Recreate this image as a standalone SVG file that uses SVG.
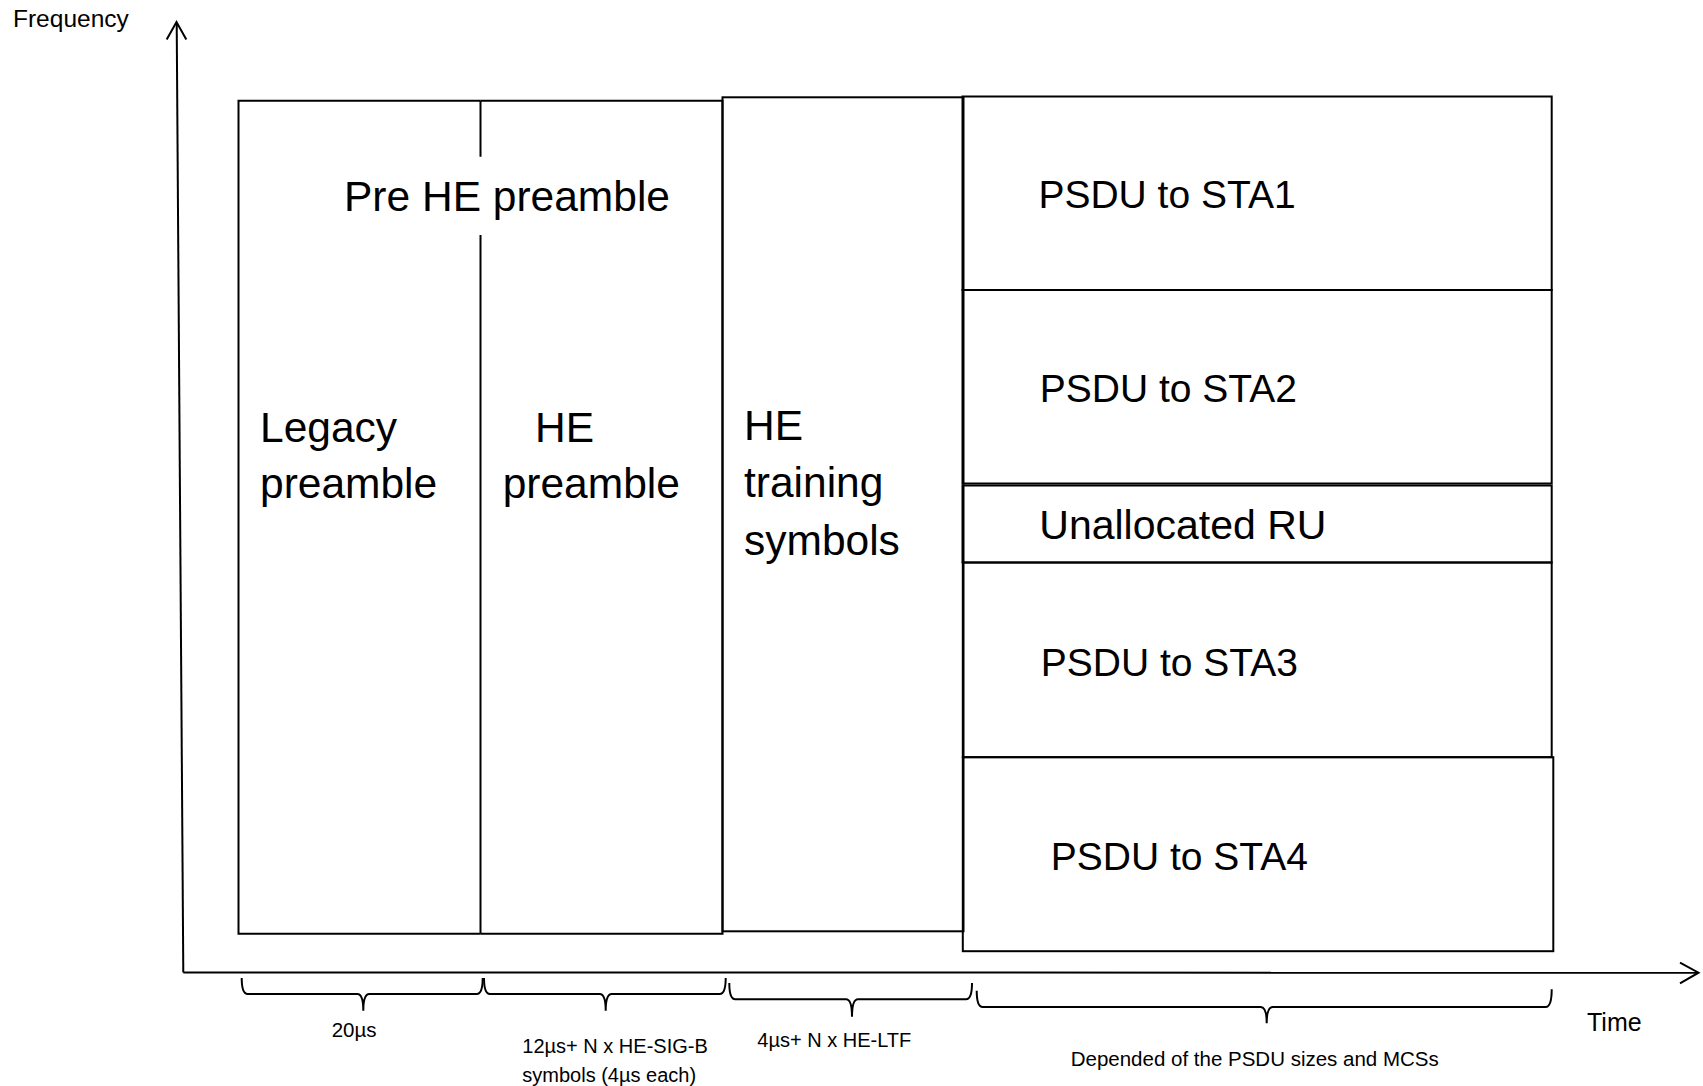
<svg xmlns="http://www.w3.org/2000/svg" width="1703" height="1086" viewBox="0 0 1703 1086">
<style>
.ln{fill:none;stroke:#000;stroke-width:2;stroke-linejoin:miter}
.t{font-family:"Liberation Sans",Arial,sans-serif;fill:#000}
.big{font-size:42.5px}
.psdu{font-size:39px}
.sm{font-size:20px}
</style>
<rect x="0" y="0" width="1703" height="1086" fill="#fff"/>

<g id="axes">
<text class="t" x="13" y="27" font-size="24.5">Frequency</text>
<text class="t" x="1587" y="1031" font-size="25">Time</text>
</g>

<g id="connectors">
<path class="ln" d="M183.3,972.5 L176.7,23"/>
<path class="ln" d="M166.7,39.5 L176.5,22 L186.3,39.5"/>
<path class="ln" d="M183.3,972.5 L1698,972.7"/>
<path class="ln" d="M1680,962.7 L1698.5,972.7 L1680,983.3"/>
<path class="ln" d="M241.7,978 Q241.7,994 247.7,994 L357.3,994 Q363.3,994 363.3,1010.7 Q363.3,994 369.3,994 L476.7,994 Q482.7,994 482.7,978"/>
<path class="ln" d="M484,978 Q484,994 490,994 L599.7,994 Q605.7,994 605.7,1010.7 Q605.7,994 611.7,994 L719.7,994 Q725.7,994 725.7,978"/>
<path class="ln" d="M729.3,983 Q729.3,999.3 735.3,999.3 L846,999.3 Q852,999.3 852,1016.7 Q852,999.3 858,999.3 L966,999.3 Q972,999.3 972,983"/>
<path class="ln" d="M976.7,990.7 Q976.7,1007 982.7,1007 L1260.7,1007 Q1266.7,1007 1266.7,1023.3 Q1266.7,1007 1272.7,1007 L1545.7,1007 Q1551.7,1007 1551.7,989.3"/>
</g>

<g id="legacy-preamble">
<path class="ln" d="M480.5,100.7 L238.5,100.7 L238.5,933.7 L480.5,933.7"/>
<text class="t big" x="260" y="441.7">Legacy</text>
<text class="t big" x="260" y="498.3">preamble</text>
</g>

<g id="he-preamble">
<path class="ln" d="M480.5,100.7 L722.5,100.7 L722.5,933.7 L480.5,933.7"/>
<path class="ln" d="M480.5,100.7 L480.5,156.7 M480.5,235 L480.5,933.7"/>
<text class="t big" x="535" y="441.7">HE</text>
<text class="t big" x="502.7" y="498.3">preamble</text>
</g>

<g id="pre-he-preamble">
<text class="t big" x="344" y="210.7">Pre HE preamble</text>
</g>

<g id="he-training">
<rect class="ln" x="722.5" y="97.3" width="241" height="834"/>
<text class="t big" x="744" y="440">HE</text>
<text class="t big" x="744" y="497.3">training</text>
<text class="t big" x="744" y="555">symbols</text>
</g>

<g id="psdu-sta1">
<rect class="ln" x="962.5" y="96.5" width="589.2" height="193.5"/>
<text class="t psdu" x="1038.4" y="207.7">PSDU to STA1</text>
</g>

<g id="psdu-sta2">
<rect class="ln" x="962.5" y="290" width="589.2" height="193.5"/>
<text class="t psdu" x="1039.7" y="401.7">PSDU to STA2</text>
</g>

<g id="unallocated-ru">
<rect class="ln" x="962.5" y="485.5" width="589.2" height="77"/>
<text class="t" font-size="41" x="1039.3" y="539.3">Unallocated RU</text>
</g>

<g id="psdu-sta3">
<rect class="ln" x="962.8" y="562.5" width="588.9" height="194.7"/>
<text class="t psdu" x="1040.7" y="675.7">PSDU to STA3</text>
</g>

<g id="psdu-sta4">
<rect class="ln" x="962.8" y="757.2" width="590.5" height="194"/>
<text class="t psdu" x="1050.7" y="870">PSDU to STA4</text>
</g>

<g id="durations">
<text class="t" x="331.7" y="1037" font-size="20.5">20µs</text>
<text class="t sm" x="522.3" y="1053.3">12µs+ N x HE-SIG-B</text>
<text class="t sm" x="522.3" y="1081.7">symbols (4µs each)</text>
<text class="t sm" x="757.3" y="1047.3">4µs+ N x HE-LTF</text>
<text class="t" x="1070.7" y="1066" font-size="20.5">Depended of the PSDU sizes and MCSs</text>
</g>
</svg>
